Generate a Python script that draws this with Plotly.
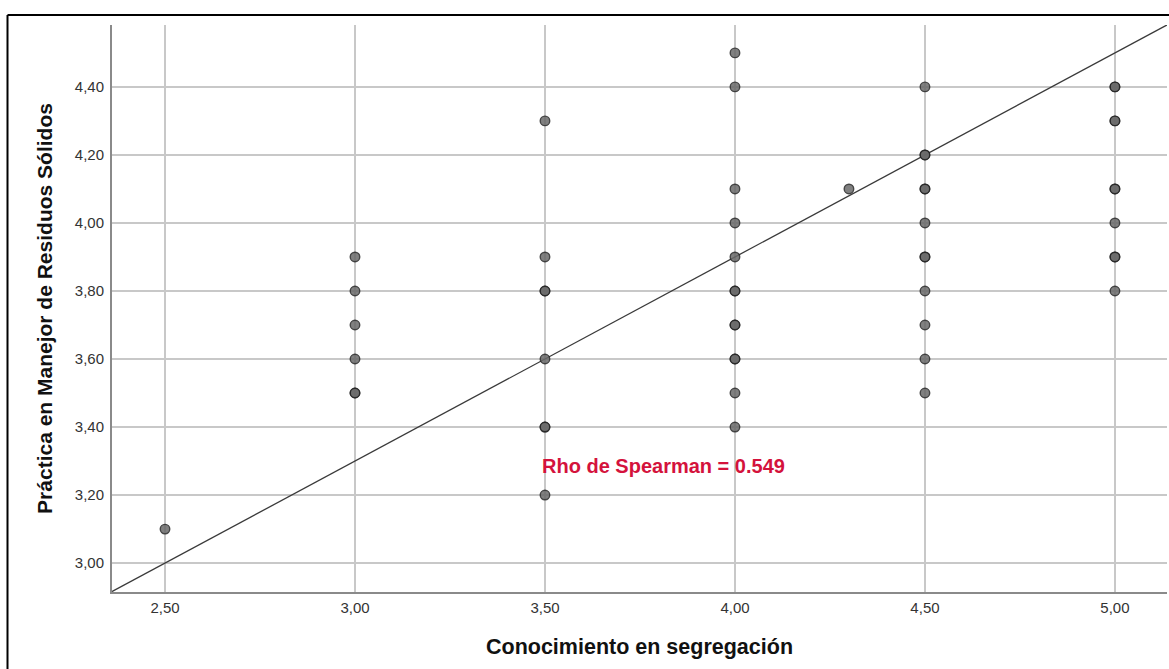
import plotly.graph_objects as go

# ---- data ----
conocimiento = [2.5,
                3.0, 3.0, 3.0, 3.0, 3.0, 3.0,
                3.5, 3.5, 3.5, 3.5, 3.5, 3.5, 3.5, 3.5,
                4.0, 4.0, 4.0, 4.0, 4.0, 4.0, 4.0, 4.0, 4.0, 4.0, 4.0, 4.0, 4.0,
                4.3,
                4.5, 4.5, 4.5, 4.5, 4.5, 4.5, 4.5, 4.5, 4.5, 4.5, 4.5, 4.5,
                5.0, 5.0, 5.0, 5.0, 5.0, 5.0, 5.0, 5.0, 5.0, 5.0]
practica = [3.1,
            3.9, 3.8, 3.7, 3.6, 3.5, 3.5,
            4.3, 3.9, 3.8, 3.8, 3.6, 3.4, 3.4, 3.2,
            4.5, 4.4, 4.1, 4.0, 3.9, 3.8, 3.8, 3.7, 3.7, 3.6, 3.6, 3.5, 3.4,
            4.1,
            4.4, 4.2, 4.2, 4.1, 4.1, 4.0, 3.9, 3.9, 3.8, 3.7, 3.6, 3.5,
            4.4, 4.4, 4.3, 4.3, 4.1, 4.1, 4.0, 3.9, 3.9, 3.8]

x_ticks = [2.5, 3.0, 3.5, 4.0, 4.5, 5.0]
y_ticks = [3.0, 3.2, 3.4, 3.6, 3.8, 4.0, 4.2, 4.4]
x_range = [2.3605, 5.137]
y_range = [2.915, 4.582]

line_intercept = 1.5
line_slope = 0.6
rho_text = "Rho de Spearman = 0.549"
rho_pos = (3.487, 3.285)

x_title = "Conocimiento en segregación"
y_title = "Práctica en Manejor de Residuos Sólidos"

FONT = "Liberation Sans, Arial, sans-serif"

# ---- figure ----
W, H = 1169, 669
ML, MR, MT, MB = 112, 2, 25, 77
PW = W - ML - MR
PH = H - MT - MB

fig = go.Figure()

line_x = list(x_range)
line_y = [line_intercept + line_slope * v for v in line_x]
fig.add_trace(go.Scatter(x=line_x, y=line_y, mode="lines",
                         line=dict(color="#3a3a3a", width=1.3),
                         hoverinfo="skip", showlegend=False, cliponaxis=True))

fig.add_trace(go.Scatter(x=conocimiento, y=practica, mode="markers",
                         marker=dict(size=9.5, color="#6a6a6a", opacity=0.85,
                                     line=dict(color="#262626", width=1.4)),
                         showlegend=False))

fig.add_annotation(x=rho_pos[0], y=rho_pos[1], xref="x", yref="y",
                   text="<b>" + rho_text + "</b>", showarrow=False,
                   xanchor="left", yanchor="middle",
                   font=dict(family=FONT, size=20, color="#d4123c"))

axis_common = dict(showgrid=True, gridcolor="#c8c8c8", gridwidth=1.5,
                   zeroline=False, showline=True, linecolor="#8a8a8a",
                   linewidth=2, ticks="", tickformat=".2f",
                   tickfont=dict(family=FONT, size=15, color="#333333"))

fig.update_xaxes(range=x_range, tickvals=x_ticks, mirror=False,
                 ticklabelstandoff=1,
                 title=dict(text="<b>" + x_title + "</b>", standoff=24,
                            font=dict(family=FONT, size=21.5, color="#111111")),
                 **axis_common)
fig.update_yaxes(range=y_range, tickvals=y_ticks, mirror=False,
                 ticklabelstandoff=3,
                 title=dict(text="<b>" + y_title + "</b>", standoff=16,
                            font=dict(family=FONT, size=21, color="#111111")),
                 **axis_common)

# outer frame (top and left edges visible in the reference)
fx0 = (7.5 - ML) / PW
fy0 = 1 + (MT - 15) / PH
fig.add_shape(type="line", xref="paper", yref="paper",
              x0=fx0, x1=1.2, y0=fy0, y1=fy0,
              line=dict(color="#000000", width=2))
fig.add_shape(type="line", xref="paper", yref="paper",
              x0=fx0, x1=fx0, y0=fy0, y1=-0.3,
              line=dict(color="#000000", width=2))

fig.update_layout(width=W, height=H, autosize=False,
                  margin=dict(l=ML, r=MR, t=MT, b=MB, pad=0),
                  paper_bgcolor="white", plot_bgcolor="white",
                  separators=",.",
                  font=dict(family=FONT))

fig.write_html("out.html",
               config={"displayModeBar": False},
               post_script="document.body.style.margin='0';"
                           "document.body.style.overflow='hidden';")
